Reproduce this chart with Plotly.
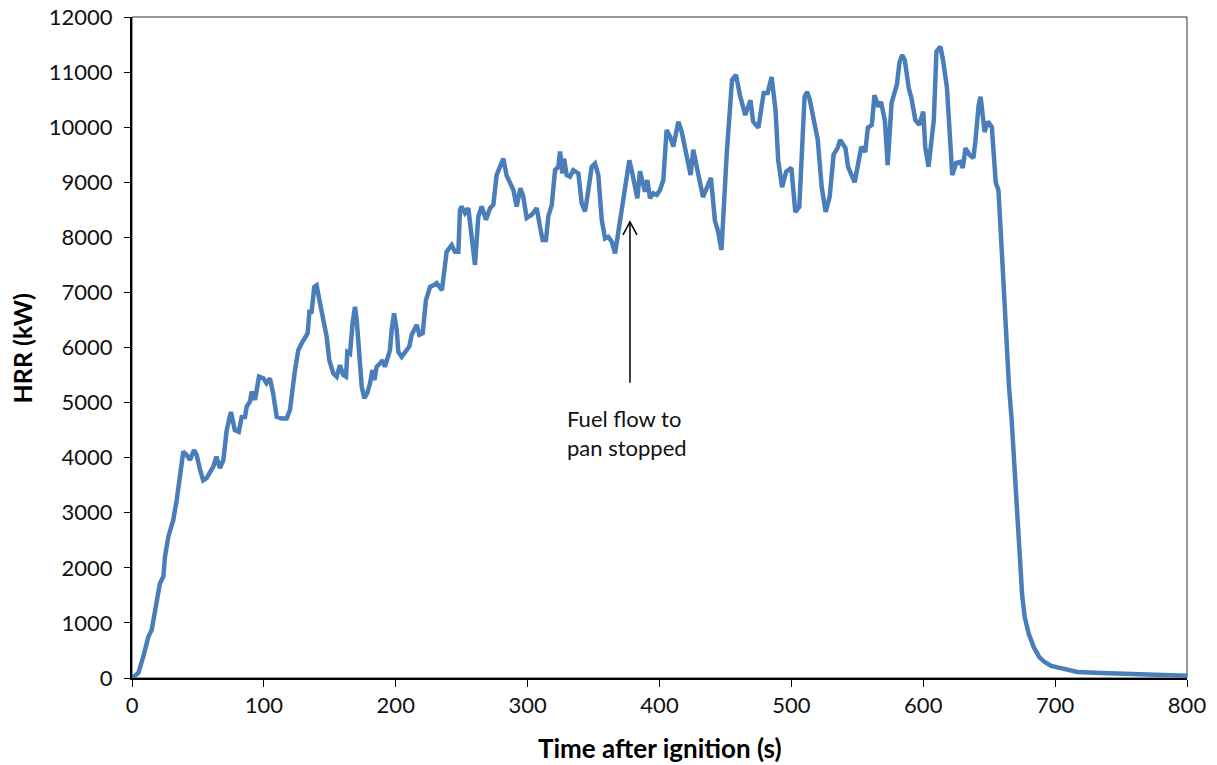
import plotly.graph_objects as go

# Heat release rate record (time after ignition in s, HRR in kW)
time_s = [
    0, 4.8, 8.6, 12.4, 14.9, 18.7, 21.2, 23.8, 25, 27.6, 31.3, 33.9, 36.4, 38.9,
    41.4, 44, 47, 49, 51.6, 54, 56.6, 59, 61.7, 64, 66.7, 69.3, 71.8, 75, 78, 81,
    83.2, 85.7, 87, 89.5, 90.7, 93.3, 96.3, 99.6, 102, 104.6, 107, 109.7, 113.5,
    117.3, 119.8, 123.6, 126.1, 128.7, 131.2, 133.2, 134.5, 136.2, 138.2, 140,
    142.6, 145, 147.6, 149.6, 152.6, 155.2, 157.7, 160.2, 162.3, 163.3, 165.3,
    167.4, 169.1, 170.4, 172.4, 174.2, 176.2, 178.4, 180.5, 182.3, 183.8, 185.5,
    188, 190.1, 191.8, 194.4, 195.6, 196.9, 198.7, 200.7, 202, 204.5, 207, 210.3,
    212.1, 215.9, 217.9, 220.4, 222.9, 226, 228.5, 231, 235, 236.6, 238.6, 242.4,
    244.9, 247.5, 248.7, 250, 252.5, 255, 257.6, 260.1, 262.6, 265.2, 268.4,
    271.5, 274, 276.5, 279, 281.6, 284.1, 286.6, 289.2, 291.7, 294.5, 296.7,
    299.3, 303.1, 306.9, 309.4, 311.4, 313.9, 315.7, 318.3, 320.8, 323.3, 324.6,
    326.3, 327.6, 329.6, 332.1, 334.6, 338.5, 341, 343.5, 345.3, 348.6, 351.1,
    353.6, 356.2, 358.7, 361.2, 363.8, 366.3, 368.8, 371.3, 373.8, 375.1, 377.1,
    378.9, 381.4, 383.2, 385.2, 387.2, 389, 390.8, 392.8, 395.3, 397.9, 400.4,
    402.9, 405.4, 408, 410.5, 414.3, 416.8, 419.3, 421.9, 423.6, 425.6, 428.7,
    433, 439, 442, 444.5, 447, 451, 455, 458, 461, 465, 469, 471, 475, 479, 482,
    485, 488, 490, 493, 496, 500, 503, 506, 510, 512, 514, 518, 520, 523, 526,
    529, 532, 535, 537, 541, 543, 548, 550, 553, 556, 558, 561, 563, 566, 568,
    571, 573, 576, 580, 582, 584, 586, 589, 591, 594, 597, 600, 601.5, 604, 608,
    610, 613, 615, 618, 620, 622, 625, 628, 630, 632, 635, 638, 639.5, 642,
    643.5, 645, 646.5, 649, 652, 655, 657, 659, 661, 663, 665, 667, 669, 671,
    673, 675, 677, 680, 684, 688, 692, 697, 705, 717, 735, 754, 775, 800,
]
hrr_kw = [
    0, 90, 390, 750, 870, 1450, 1720, 1840, 2200, 2570, 2870, 3230, 3650, 4110,
    4050, 3960, 4140, 4050, 3780, 3590, 3630, 3720, 3840, 4020, 3810, 3960, 4500,
    4830, 4500, 4470, 4740, 4740, 4930, 5020, 5200, 5050, 5470, 5440, 5350, 5440,
    5170, 4740, 4710, 4710, 4870, 5590, 5950, 6080, 6200, 6260, 6650, 6650, 7100,
    7130, 6800, 6530, 6200, 5770, 5530, 5470, 5680, 5500, 5470, 5920, 5890, 6470,
    6740, 6500, 5710, 5290, 5080, 5170, 5350, 5590, 5410, 5650, 5710, 5770, 5650,
    5890, 5950, 6320, 6620, 6320, 5920, 5830, 5920, 6020, 6230, 6410, 6230, 6260,
    6860, 7100, 7130, 7170, 7040, 7410, 7740, 7860, 7740, 7740, 8500, 8560, 8440,
    8530, 8010, 7500, 8380, 8560, 8320, 8530, 8590, 9130, 9280, 9430, 9120, 8980,
    8860, 8560, 8890, 8740, 8350, 8410, 8530, 8190, 7950, 7950, 8380, 8590, 9220,
    9280, 9560, 9160, 9430, 9130, 9100, 9220, 9160, 8620, 8470, 8740, 9280, 9340,
    9130, 8320, 7980, 8010, 7920, 7710, 8130, 8560, 8950, 9100, 9400, 9220, 8920,
    8710, 9200, 9010, 8830, 9040, 8710, 8800, 8770, 8860, 9040, 9950, 9830, 9650,
    10100, 9920, 9650, 9400, 9130, 9590, 9250, 8730, 9080, 8310, 8100, 7770,
    9530, 10860, 10950, 10580, 10220, 10490, 10100, 9990, 10620, 10620, 10910,
    10310, 9400, 8910, 9190, 9260, 8460, 8550, 10550, 10640, 10490, 10000, 9770,
    8910, 8460, 8730, 9500, 9620, 9770, 9620, 9280, 9000, 9220, 9640, 9550, 9990,
    10040, 10580, 10370, 10460, 10100, 9310, 10440, 10770, 11180, 11310, 11220,
    10710, 10530, 10130, 10040, 10280, 9640, 9280, 10130, 11370, 11460, 11220,
    10710, 9950, 9130, 9350, 9370, 9260, 9620, 9500, 9440, 9730, 10400, 10550,
    10190, 9910, 10100, 10000, 8990, 8860, 8000, 7000, 6100, 5300, 4700, 4000,
    3200, 2300, 1500, 1100, 800, 550, 380, 290, 220, 170, 110, 90, 80, 70, 40,
]

x_ticks = [0, 100, 200, 300, 400, 500, 600, 700, 800]
y_ticks = [0, 1000, 2000, 3000, 4000, 5000, 6000, 7000, 8000, 9000, 10000, 11000, 12000]

x_title = "Time after ignition (s)"
y_title = "HRR (kW)"

note_text = "Fuel flow to<br>pan stopped"
note_time = 377.6          # where the arrow points on the time axis
note_tip_hrr = 8280        # arrow tip
note_tail_hrr = 5360       # arrow tail
note_label_time = 328
note_label_hrr = 4450

FONT = "Lato, 'Open Sans', sans-serif"

fig = go.Figure()
fig.add_trace(go.Scatter(
    x=time_s, y=hrr_kw, mode="lines",
    line=dict(color="#4A7EBB", width=4.5, shape="linear"),
    hoverinfo="skip", showlegend=False,
))

# Thin frame around the plot area
fig.add_shape(type="rect", xref="paper", yref="paper", x0=0, y0=0, x1=1, y1=1,
              line=dict(color="#333333", width=1), layer="below")

# Arrow shaft and open head
fig.add_shape(type="line", xref="x", yref="y",
              x0=note_time, x1=note_time, y0=note_tail_hrr, y1=note_tip_hrr,
              line=dict(color="black", width=1.5))
fig.add_shape(type="path", xref="x", yref="y",
              xsizemode="pixel", ysizemode="pixel",
              xanchor=note_time, yanchor=note_tip_hrr,
              path="M-7,-13 L0,0 L7,-13",
              line=dict(color="black", width=1.5))

fig.add_annotation(x=note_label_time, y=note_label_hrr, xref="x", yref="y",
                   text=note_text, showarrow=False, xanchor="left",
                   yanchor="middle", align="left",
                   font=dict(family=FONT, size=22, color="#111111"))

# Axis titles placed as annotations relative to the plot area
fig.add_annotation(x=0.5, y=-0.106, xref="paper", yref="paper",
                   text=f"<b>{x_title}</b>", showarrow=False,
                   xanchor="center", yanchor="middle",
                   font=dict(family=FONT, size=26, color="black"))
fig.add_annotation(x=-0.104, y=0.499, xref="paper", yref="paper",
                   text=f"<b>{y_title}</b>", showarrow=False, textangle=-90,
                   xanchor="center", yanchor="middle",
                   font=dict(family=FONT, size=25, color="black"))

fig.update_xaxes(
    range=[0, 800], tickvals=x_ticks, ticktext=[str(v) for v in x_ticks],
    showgrid=False, zeroline=False, showline=True, linecolor="black", linewidth=2,
    ticks="outside", ticklen=7, tickwidth=1, tickcolor="black", automargin=False,
    tickfont=dict(family=FONT, size=22, color="#111111"),
)
fig.update_yaxes(
    range=[0, 12000], tickvals=y_ticks, ticktext=[str(v) for v in y_ticks],
    showgrid=False, zeroline=False, showline=True, linecolor="black", linewidth=2,
    ticks="outside", ticklen=6, tickwidth=1, tickcolor="black", automargin=False,
    ticklabelstandoff=7,
    tickfont=dict(family=FONT, size=22, color="#111111"),
)

fig.update_layout(
    width=1217, height=765,
    margin=dict(l=132, r=30, t=17, b=87),
    paper_bgcolor="white", plot_bgcolor="white",
)

fig.write_html("out.html")
